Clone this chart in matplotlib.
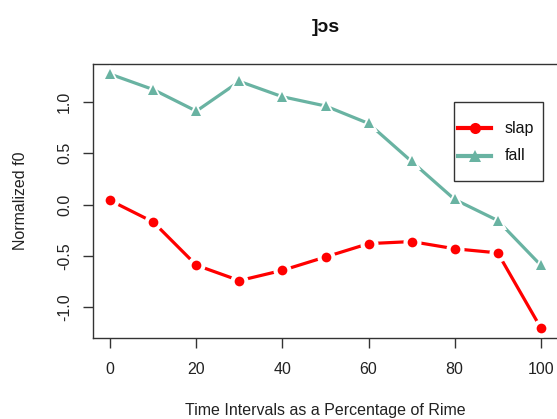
import matplotlib
matplotlib.use('Agg')
import matplotlib.pyplot as plt
from matplotlib.patches import Rectangle

plt.rcParams['font.family'] = ['Liberation Sans', 'DejaVu Sans']

# normalized f0 over the rime, per tone category
time_pct = [0, 10, 20, 30, 40, 50, 60, 70, 80, 90, 100]
slap = [0.04, -0.17, -0.59, -0.74, -0.64, -0.51, -0.38, -0.36, -0.43, -0.47, -1.20]
fall = [1.27, 1.12, 0.91, 1.20, 1.05, 0.96, 0.79, 0.42, 0.05, -0.155, -0.59]

series_names = ['slap', 'fall']
x_ticks = [0, 20, 40, 60, 80, 100]
y_ticks = [-1.0, -0.5, 0.0, 0.5, 1.0]

RED = '#FF0000'
GREEN = '#69B3A2'

W, H = 557, 419
fig = plt.figure(figsize=(W / 100, H / 100), dpi=100)
fig.patch.set_facecolor('white')
# plot region in pixels: left 93, right 558 (runs just off the canvas), top 64, bottom 338
L, R, T, B = 93, 558, 64, 338
ax = fig.add_axes([L / W, 1 - B / H, (R - L) / W, (B - T) / H])

def px(x, y):
    # pixel position -> axes fraction
    return (x - L) / (R - L), (B - y) / (B - T)

def series(y, color, marker, ms):
    # R type="b": lines broken around each point
    ax.plot(time_pct, y, color=color, lw=2.3, solid_capstyle='butt', zorder=2)
    ax.plot(time_pct, y, ls='none', marker=marker, ms=ms + 6, color='white',
            markeredgewidth=0, zorder=3)
    ax.plot(time_pct, y, ls='none', marker=marker, ms=ms, color=color,
            markeredgewidth=0, zorder=4)

series(slap, RED, 'o', 7)
series(fall, GREEN, '^', 7.5)

lo = min(slap + fall)
hi = max(slap + fall)
pad = (hi - lo) * 0.04
ax.set_xlim(-4, 104)
ax.set_ylim(lo - pad, hi + pad)

ax.set_xticks(x_ticks)
ax.set_xticklabels([str(v) for v in x_ticks], fontsize=11.5, color='#222')
ax.set_yticks(y_ticks)
ax.set_yticklabels([f'{v:.1f}' for v in y_ticks], fontsize=11.5, color='#222',
                   rotation=90, va='center')
ax.tick_params(direction='out', length=7, width=1, color='#333', pad=10)
ax.tick_params(axis='y', pad=8)
for s in ax.spines.values():
    s.set_color('#333')
    s.set_linewidth(1)

ax.set_xlabel('Time Intervals as a Percentage of Rime', fontsize=11.5,
              color='#222', labelpad=19)
ax.set_ylabel('Normalized f0', fontsize=11.5, color='#222', labelpad=21)
ax.set_title(']ɔs', fontsize=14, fontweight='bold', color='#111', pad=23)

# legend box, drawn R-style
x0, y0 = px(454, 181)
x1, y1 = px(543, 102)
ax.add_patch(Rectangle((x0, y0), x1 - x0, y1 - y0, transform=ax.transAxes,
                       facecolor='white', edgecolor='#333', lw=1,
                       clip_on=False, zorder=5))
for name, color, marker, ypx in [(series_names[0], RED, 'o', 128),
                                 (series_names[1], GREEN, '^', 156)]:
    lx0, ly = px(458, ypx)
    lx1, _ = px(491, ypx)
    ax.plot([lx0, lx1], [ly, ly], color=color, lw=3, transform=ax.transAxes,
            clip_on=False, zorder=6)
    ax.plot([(lx0 + lx1) / 2], [ly], marker=marker, ms=8, color=color,
            markeredgewidth=0, transform=ax.transAxes, clip_on=False, zorder=7)
    tx, _ = px(505, ypx)
    ax.text(tx, ly, name, transform=ax.transAxes, fontsize=11.5, color='#111',
            va='center', ha='left', zorder=7)

fig.savefig('out.png', dpi=100, facecolor='white')
